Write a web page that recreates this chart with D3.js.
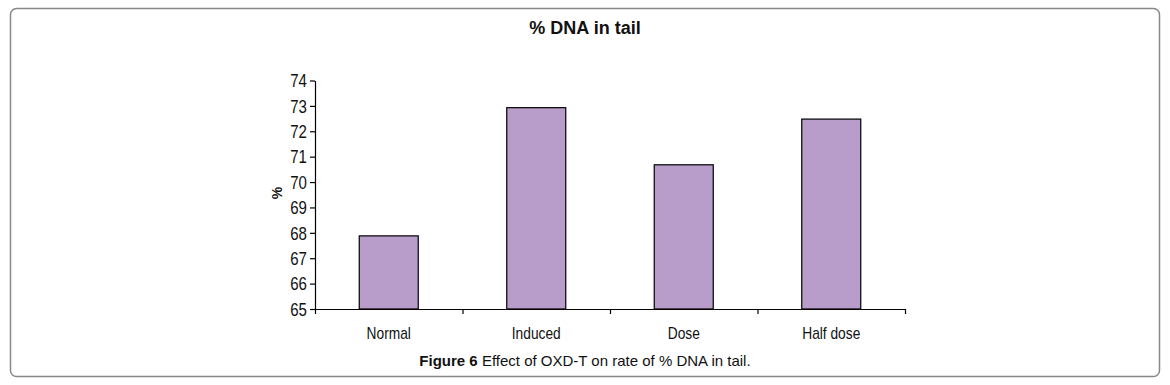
<!DOCTYPE html>
<html>
<head>
<meta charset="utf-8">
<script src="https://cdn.jsdelivr.net/npm/d3@7"></script>
<style>
  body { margin: 0; background: #fff; }
  svg text { font-family: "Liberation Sans", Arial, sans-serif; fill: #111; }
</style>
</head>
<body>
<svg id="chart"></svg>
<script>
const categories = ['Normal', 'Induced', 'Dose', 'Half dose'];
const values = [67.88, 72.93, 70.68, 72.48];
const yTicks = [65, 66, 67, 68, 69, 70, 71, 72, 73, 74];

const width = 1170, height = 385;
const margin = { top: 80.5, right: 265, bottom: 76, left: 315 };
const innerW = width - margin.left - margin.right;
const innerH = height - margin.top - margin.bottom;
const squeeze = 0.86; // the original labels use a narrow face

const svg = d3.select('#chart').attr('width', width).attr('height', height);

// frame
svg.append('rect')
    .attr('x', 10.5).attr('y', 8.5)
    .attr('width', 1149).attr('height', 368)
    .attr('rx', 6)
    .attr('fill', 'none')
    .attr('stroke', '#888')
    .attr('stroke-width', 1.5);

const chart = svg.append('g')
    .attr('transform', `translate(${margin.left}, ${margin.top})`);

const xscale = d3.scaleBand()
    .domain(categories)
    .range([0, innerW])
    .paddingInner(0.6)
    .paddingOuter(0.3);

const yscale = d3.scaleLinear()
    .domain([65, 74])
    .range([innerH, 0]);

// bars
chart.selectAll('.bar')
    .data(values)
    .join('rect')
    .attr('class', 'bar')
    .attr('x', (d, i) => xscale(categories[i]))
    .attr('y', d => yscale(d))
    .attr('width', xscale.bandwidth())
    .attr('height', d => innerH - yscale(d))
    .attr('fill', '#b89cc9')
    .attr('stroke', '#000')
    .attr('stroke-width', 1.2);

// y axis
const yaxis = d3.axisLeft(yscale)
    .tickValues(yTicks)
    .tickSize(5)
    .tickSizeOuter(0)
    .tickFormat(d3.format('d'));

const yg = chart.append('g').call(yaxis);
yg.selectAll('path, line').attr('stroke', '#000').attr('stroke-width', 1.2);
yg.selectAll('text')
    .style('font-size', '17.5px')
    .attr('x', 0)
    .attr('transform', `translate(-8, 0) scale(${squeeze}, 1)`)
    .attr('dy', '0.36em');

// x axis: ticks at category boundaries
const xedge = d3.scaleLinear().domain([0, categories.length]).range([0, innerW]);
const xg = chart.append('g')
    .attr('transform', `translate(0, ${innerH})`)
    .call(d3.axisBottom(xedge).ticks(categories.length).tickSize(5).tickSizeOuter(0).tickFormat(''));
xg.selectAll('path, line').attr('stroke', '#000').attr('stroke-width', 1.2);

// category labels
const xl = chart.append('g')
    .attr('transform', `translate(0, ${innerH})`)
    .call(d3.axisBottom(xscale).tickSize(0));
xl.select('.domain').remove();
xl.selectAll('text')
    .style('font-size', '16px')
    .attr('y', 0)
    .attr('dy', 0)
    .attr('transform', `translate(0, 30) scale(${squeeze}, 1)`);

// title
svg.append('text')
    .attr('x', 585)
    .attr('y', 34)
    .attr('text-anchor', 'middle')
    .style('font-size', '18px')
    .style('font-weight', 'bold')
    .text('% DNA in tail');

// y label
svg.append('text')
    .attr('transform', 'translate(282, 193) rotate(-90)')
    .attr('text-anchor', 'middle')
    .style('font-size', '14px')
    .style('font-weight', 'bold')
    .text('%');

// caption
const cap = svg.append('text')
    .attr('x', 585)
    .attr('y', 366)
    .attr('text-anchor', 'middle')
    .style('font-size', '15px');
cap.append('tspan').style('font-weight', 'bold').text('Figure 6');
cap.append('tspan').text(' Effect of OXD-T on rate of % DNA in tail.');
</script>
</body>
</html>
